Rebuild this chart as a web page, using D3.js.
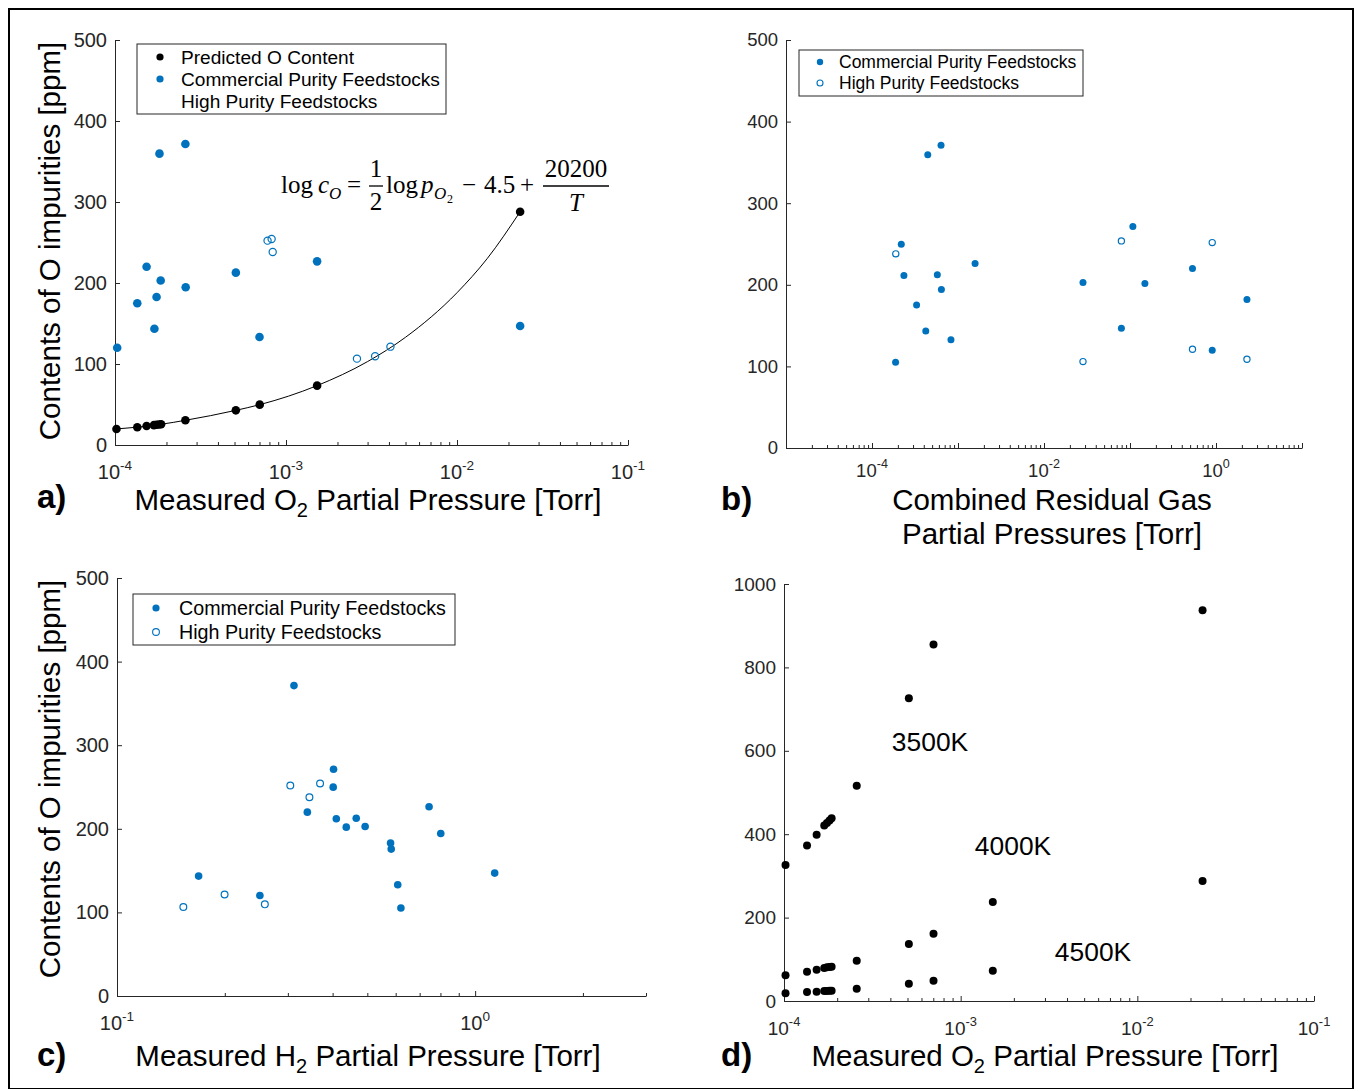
<!DOCTYPE html>
<html><head><meta charset="utf-8">
<script src="https://cdn.jsdelivr.net/npm/d3@7"></script>
<style>
body{margin:0;background:#fff}
svg{display:block}
text{font-family:"Liberation Sans",Arial,Helvetica,sans-serif}
text.serif{font-family:"Liberation Serif","Times New Roman",serif}
</style>
</head><body>
<svg id="chart" width="1356" height="1089"></svg>
<script>
// ---------------- DATA ----------------
// Panel a: predicted O content (black) and fitted curve
const predP = [1.02e-4,1.35e-4,1.53e-4,1.69e-4,1.75e-4,1.81e-4,1.86e-4,2.58e-4,5.09e-4,7.02e-4,1.52e-3,2.34e-2];
const predC = [19.8,22,23.5,24.5,25,25.3,25.6,30.5,42.8,49.8,73.3,288];
const fitP = [1.02e-4,1.35e-4,1.86e-4,2.58e-4,5.09e-4,7.02e-4,1.52e-3,3e-3,5e-3,1e-2,1.5e-2,2.34e-2];
const fitC = [19.8,22,25.6,30.5,42.8,49.8,73.3,103,133,188,230,288];
const aComP = [1.03e-4,1.35e-4,1.53e-4,1.70e-4,1.75e-4,1.82e-4,1.85e-4,2.58e-4,2.59e-4,5.09e-4,7.0e-4,1.52e-3,2.34e-2];
const aComC = [120,175,220,143.6,182.7,359.7,203,371.6,194.7,212.8,133.3,226.7,147];
const aHighP = [7.8e-4,8.24e-4,8.36e-4,2.6e-3,3.32e-3,4.08e-3];
const aHighC = [252.3,254.3,238.3,106.6,109.5,121.4];

// Panel b: combined residual gas partial pressures
const bComP = [1.88e-4,2.19e-4,2.35e-4,3.30e-4,4.22e-4,4.45e-4,5.75e-4,6.35e-4,6.41e-4,8.28e-4,1.58e-3,2.84e-2,7.94e-2,0.108,0.149,0.533,0.904,2.29];
const bComC = [105,249.7,211.4,175.2,143.4,359.3,212.2,371,194.3,132.8,226,202.9,146.6,271.3,201.6,220,119.8,182];
const bHighP = [1.89e-4,2.84e-2,7.94e-2,0.533,0.904,2.29];
const bHighC = [237.9,105.9,253.8,121,251.7,108.8];

// Panel c: measured H2 partial pressure
const cComP = [0.169,0.2506,0.312,0.340,0.4015,0.4024,0.4096,0.4367,0.4656,0.4930,0.5806,0.583,0.608,0.6205,0.7437,0.8017,1.134];
const cComC = [143.4,120.3,371.3,219.9,249.8,271.3,212,202,212.7,202.8,182.9,175.7,133,105.2,226.3,194.4,147];
const cHighP = [0.1532,0.1997,0.2587,0.3047,0.3446,0.369];
const cHighC = [106.4,121.5,109.6,251.8,237.8,254.2];

// Panel d: predicted content at three temperatures
const dP3500 = [1.02e-4,1.35e-4,1.53e-4,1.69e-4,1.75e-4,1.81e-4,1.86e-4,2.58e-4,5.09e-4,7.02e-4];
const dC3500 = [326,373,398.6,421,427,433,438.5,516,726,855];
const dP4000 = [1.02e-4,1.35e-4,1.53e-4,1.69e-4,1.75e-4,1.81e-4,1.86e-4,2.58e-4,5.09e-4,7.02e-4,1.52e-3,2.34e-2];
const dC4000 = [61.5,70.3,75,79,80.7,81.5,82.3,96.6,136.6,161.3,237.2,937];
const dP4500 = [1.02e-4,1.35e-4,1.53e-4,1.69e-4,1.75e-4,1.81e-4,1.86e-4,2.58e-4,5.09e-4,7.02e-4,1.52e-3,2.34e-2];
const dC4500 = [18.4,21.6,22.4,24,24,24.8,24.8,29.6,41.5,48.7,72.7,287.5];
const tempLabels = ["3500K","4000K","4500K"];

// Tick values / labels
const yTicks500 = [0,100,200,300,400,500];
const yTicks1000 = [0,200,400,600,800,1000];
const xLabA = [-4,-3,-2,-1];      // exponents labelled
const xLabB = [-4,-2,0];
const xLabC = [-1,0];
const xLabD = [-4,-3,-2,-1];

const legendA = ["Predicted O Content","Commercial Purity Feedstocks","High Purity Feedstocks"];
const legendBC = ["Commercial Purity Feedstocks","High Purity Feedstocks"];

// ---------------- DRAW ----------------
const BLUE = "#0072BD";
const AX = "#262626";
const LBL = 29.5;
const svg = d3.select("#chart");

svg.append("rect").attr("x",9).attr("y",9).attr("width",1344).attr("height",1080)
  .attr("fill","none").attr("stroke","#000").attr("stroke-width",2);

const zip = (a,b) => a.map((v,i)=>[v,b[i]]);

function minorTicks(dom){
  const lo = Math.floor(Math.log10(dom[0])+1e-9), hi = Math.ceil(Math.log10(dom[1])-1e-9);
  const out=[];
  for(let e=lo;e<hi;e++) for(let k=2;k<=9;k++){ const v=k*Math.pow(10,e); if(v>=dom[0]*0.999 && v<=dom[1]*1.001) out.push(v); }
  return out;
}
function majorTicks(dom){
  const lo = Math.ceil(Math.log10(dom[0])-1e-9), hi = Math.floor(Math.log10(dom[1])+1e-9);
  const out=[]; for(let e=lo;e<=hi;e++) out.push(Math.pow(10,e)); return out;
}

function panel(cfg){
  const g = svg.append("g");
  const x = d3.scaleLog().domain(cfg.xDom).range([cfg.x0,cfg.x1]);
  const y = d3.scaleLinear().domain(cfg.yDom).range([cfg.y0,cfg.y1]);
  const ya = g.append("g").attr("transform",`translate(${cfg.x0},0)`)
    .call(d3.axisLeft(y).tickValues(cfg.yTicks).tickSizeInner(-5).tickSizeOuter(0).tickPadding(8).tickFormat(d3.format("d")));
  ya.selectAll("text").attr("font-size",cfg.fs).attr("fill",AX);
  g.append("g").attr("transform",`translate(0,${cfg.y0})`)
    .call(d3.axisBottom(x).tickValues(majorTicks(cfg.xDom)).tickSizeInner(-5).tickSizeOuter(0).tickFormat(""));
  const xm = g.append("g").attr("transform",`translate(0,${cfg.y0})`)
    .call(d3.axisBottom(x).tickValues(minorTicks(cfg.xDom)).tickSizeInner(-3).tickSizeOuter(0).tickFormat(""));
  xm.select(".domain").remove();
  g.selectAll(".domain, .tick line").attr("stroke",AX).attr("stroke-width",1);
  cfg.xLab.forEach(e=>{
    const t = g.append("text").attr("x",x(Math.pow(10,e))).attr("y",cfg.y0+(cfg.lo||34))
      .attr("text-anchor","middle").attr("fill",AX).attr("font-size",cfg.fs);
    t.append("tspan").text("10");
    t.append("tspan").attr("dy",-9).attr("font-size",cfg.fs*0.68).text(e===0?"0":"-"+Math.abs(e));
  });
  return {g,x,y};
}

function dots(p, P, C, r, fill){
  p.g.append("g").selectAll("circle").data(zip(P,C)).join("circle")
    .attr("cx",d=>p.x(d[0])).attr("cy",d=>p.y(d[1])).attr("r",r).attr("fill",fill);
}
function rings(p, P, C, r){
  p.g.append("g").selectAll("circle").data(zip(P,C)).join("circle")
    .attr("cx",d=>p.x(d[0])).attr("cy",d=>p.y(d[1])).attr("r",r)
    .attr("fill","none").attr("stroke",BLUE).attr("stroke-width",1.2);
}
function legend(bx,by,bw,bh,items,fs,mx,tx,rowY,markers){
  const g = svg.append("g");
  g.append("rect").attr("x",bx).attr("y",by).attr("width",bw).attr("height",bh)
    .attr("fill","#fff").attr("stroke",AX).attr("stroke-width",1);
  items.forEach((s,i)=>{
    const m = markers[i];
    if(m.type==="dot") g.append("circle").attr("cx",mx).attr("cy",rowY[i]).attr("r",m.r).attr("fill",m.c);
    if(m.type==="ring") g.append("circle").attr("cx",mx).attr("cy",rowY[i]).attr("r",m.r).attr("fill","none").attr("stroke",m.c).attr("stroke-width",1.1);
    g.append("text").attr("x",tx).attr("y",rowY[i]).attr("dy","0.36em").attr("font-size",fs).attr("fill","#000").text(s);
  });
}
function subLabel(x,y,pre,sub,post,fs){
  const t = svg.append("text").attr("x",x).attr("y",y).attr("text-anchor","middle").attr("font-size",fs).attr("fill","#000");
  t.append("tspan").text(pre);
  t.append("tspan").attr("dy",7).attr("font-size",fs*0.68).text(sub);
  t.append("tspan").attr("dy",-7).text(post);
  return t;
}
function panelTag(x,y,s){
  svg.append("text").attr("x",x).attr("y",y).attr("font-size",33).attr("font-weight","bold").attr("fill","#000").text(s);
}

// ---- Panel a ----
const pa = panel({xDom:[1e-4,1e-1],yDom:[0,500],x0:115,x1:628,y0:445,y1:40,yTicks:yTicks500,xLab:xLabA,fs:20});
pa.g.append("path").datum(zip(fitP,fitC))
  .attr("d",d3.line().x(d=>pa.x(d[0])).y(d=>pa.y(d[1])).curve(d3.curveMonotoneX))
  .attr("fill","none").attr("stroke","#000").attr("stroke-width",1);
dots(pa, aComP, aComC, 4.3, BLUE);
rings(pa, aHighP, aHighC, 3.6);
dots(pa, predP, predC, 4.3, "#000");
legend(137,44,309,70,legendA,19.1,160,181,[57,79,101],
  [{type:"dot",r:3.6,c:"#000"},{type:"dot",r:3.6,c:BLUE},{type:"none"}]);
// formula
(function(){
  const f = svg.append("g").attr("fill","#000");
  const T = (x,y,s,opt)=>{ const t=f.append("text").attr("class","serif").attr("x",x).attr("y",y).attr("font-size",(opt&&opt.fs)||25).text(s);
    if(opt&&opt.it) t.attr("font-style","italic"); if(opt&&opt.anchor) t.attr("text-anchor",opt.anchor); return t; };
  T(281,193,"log");
  T(318,193,"c",{it:true});
  T(329,199,"O",{it:true,fs:17});
  T(347,193,"=");
  T(376,177,"1",{anchor:"middle"});
  f.append("line").attr("x1",369).attr("x2",383).attr("y1",186).attr("y2",186).attr("stroke","#000").attr("stroke-width",1.3);
  T(376,210,"2",{anchor:"middle"});
  T(386,193,"log");
  T(421,193,"p",{it:true});
  T(434,199,"O",{it:true,fs:17});
  T(447,203,"2",{fs:12});
  T(462,193,"−");
  T(484,193,"4.5");
  T(520,193,"+");
  T(576,177,"20200",{anchor:"middle"});
  f.append("line").attr("x1",543).attr("x2",609).attr("y1",186).attr("y2",186).attr("stroke","#000").attr("stroke-width",1.3);
  T(576,211,"T",{it:true,anchor:"middle"});
})();
svg.append("text").attr("transform","translate(60,241) rotate(-90)").attr("text-anchor","middle")
  .attr("font-size",LBL).attr("fill","#000").text("Contents of O impurities [ppm]");
subLabel(368,510,"Measured O","2"," Partial Pressure [Torr]",LBL);
panelTag(37,508,"a)");

// ---- Panel b ----
const pb = panel({xDom:[1e-5,1e1],yDom:[0,500],x0:786,x1:1302,y0:448,y1:40,yTicks:yTicks500,xLab:xLabB,fs:18.5,lo:29});
dots(pb, bComP, bComC, 3.5, BLUE);
rings(pb, bHighP, bHighC, 3.1);
legend(799,50,284,46,legendBC,17.5,820,839,[62,83],
  [{type:"dot",r:3.2,c:BLUE},{type:"ring",r:3,c:BLUE}]);
svg.append("text").attr("x",1052).attr("y",510).attr("text-anchor","middle").attr("font-size",LBL).attr("fill","#000").text("Combined Residual Gas");
svg.append("text").attr("x",1052).attr("y",544).attr("text-anchor","middle").attr("font-size",LBL).attr("fill","#000").text("Partial Pressures [Torr]");
panelTag(721,510,"b)");

// ---- Panel c ----
const pc = panel({xDom:[0.1,3],yDom:[0,500],x0:117,x1:646,y0:996,y1:578,yTicks:yTicks500,xLab:xLabC,fs:20});
dots(pc, cComP, cComC, 3.8, BLUE);
rings(pc, cHighP, cHighC, 3.4);
legend(133,594,322,51,legendBC,19.7,156,179,[608,632],
  [{type:"dot",r:3.6,c:BLUE},{type:"ring",r:3.4,c:BLUE}]);
svg.append("text").attr("transform","translate(60,779) rotate(-90)").attr("text-anchor","middle")
  .attr("font-size",LBL).attr("fill","#000").text("Contents of O impurities [ppm]");
subLabel(368,1066,"Measured H","2"," Partial Pressure [Torr]",LBL);
panelTag(37,1066,"c)");

// ---- Panel d ----
const pd = panel({xDom:[1e-4,1e-1],yDom:[0,1000],x0:784,x1:1314,y0:1001,y1:584,yTicks:yTicks1000,xLab:xLabD,fs:19});
dots(pd, dP3500, dC3500, 4, "#000");
dots(pd, dP4000, dC4000, 4, "#000");
dots(pd, dP4500, dC4500, 4, "#000");
const tempPos = [[930,751],[1013,855],[1093,961]];
tempLabels.forEach((s,i)=>svg.append("text").attr("x",tempPos[i][0]).attr("y",tempPos[i][1]).attr("text-anchor","middle")
  .attr("font-size",26.4).attr("fill","#000").text(s));
subLabel(1045,1066,"Measured O","2"," Partial Pressure [Torr]",LBL);
panelTag(721,1066,"d)");
</script>
</body></html>
